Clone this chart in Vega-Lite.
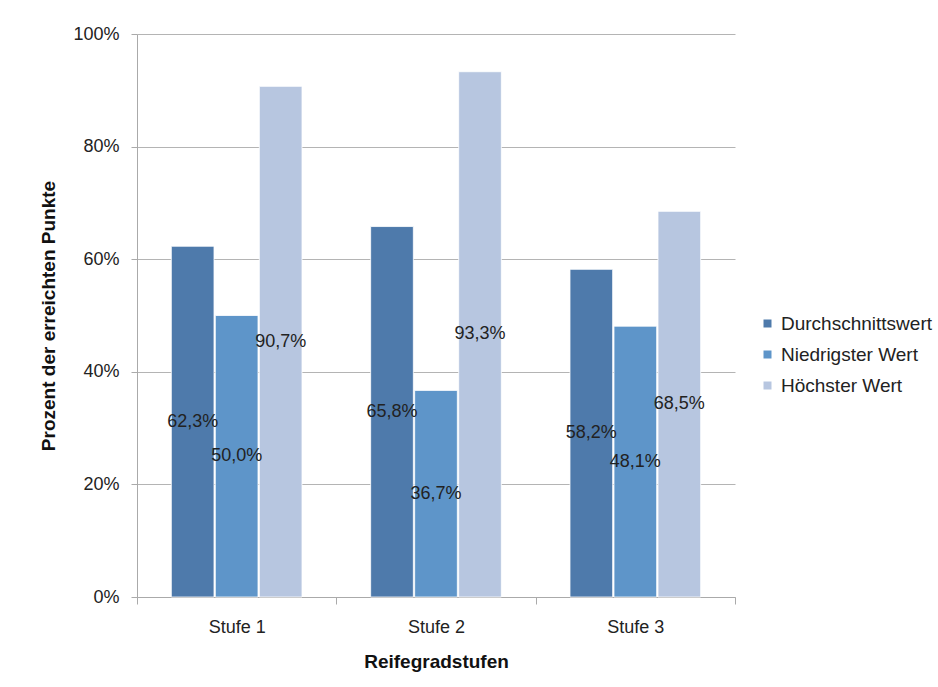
{
  "$schema": "https://vega.github.io/schema/vega-lite/v6.json",
  "autosize": {"type": "none"},
  "padding": {"left": 137, "top": 34, "right": 203, "bottom": 90},
  "width": 598,
  "height": 563,
  "background": "white",
  "config": {
    "locale": {"number": {"decimal": ",", "thousands": ".", "grouping": [3], "currency": ["", " €"]}},
    "font": "Liberation Sans",
    "view": {"stroke": null},
    "axis": {"labelFont": "Liberation Sans", "titleFont": "Liberation Sans", "labelColor": "#222222", "titleColor": "#111111"}
  },
  "data": {"values": [
    {"stufe": "Stufe 1", "serie": "Durchschnittswert", "wert": 0.623},
    {"stufe": "Stufe 1", "serie": "Niedrigster Wert", "wert": 0.500},
    {"stufe": "Stufe 1", "serie": "Höchster Wert", "wert": 0.907},
    {"stufe": "Stufe 2", "serie": "Durchschnittswert", "wert": 0.658},
    {"stufe": "Stufe 2", "serie": "Niedrigster Wert", "wert": 0.367},
    {"stufe": "Stufe 2", "serie": "Höchster Wert", "wert": 0.933},
    {"stufe": "Stufe 3", "serie": "Durchschnittswert", "wert": 0.582},
    {"stufe": "Stufe 3", "serie": "Niedrigster Wert", "wert": 0.481},
    {"stufe": "Stufe 3", "serie": "Höchster Wert", "wert": 0.685}
  ]},
  "encoding": {
    "x": {
      "field": "stufe", "type": "nominal", "sort": null,
      "scale": {"paddingInner": 0, "paddingOuter": 0},
      "axis": {
        "title": "Reifegradstufen", "titleFontSize": 19, "titleFontWeight": "bold", "titlePadding": 16,
        "labelAngle": 0, "labelFontSize": 18, "labelPadding": 14,
        "tickBand": "extent", "tickSize": 7, "tickColor": "#aaaaaa", "domainColor": "#aaaaaa"
      }
    },
    "xOffset": {
      "field": "serie", "type": "nominal", "sort": ["Durchschnittswert", "Niedrigster Wert", "Höchster Wert"],
      "scale": {"paddingOuter": 0.78, "paddingInner": 0.03}
    }
  },
  "layer": [
    {
      "mark": {"type": "bar", "stroke": "#ffffff", "strokeWidth": 0.8},
      "encoding": {
        "y": {
          "field": "wert", "type": "quantitative",
          "scale": {"domain": [0, 1], "nice": false},
          "axis": {
            "title": "Prozent der erreichten Punkte", "titleFontSize": 19, "titleFontWeight": "bold", "titlePadding": 14,
            "format": ".0%", "values": [0, 0.2, 0.4, 0.6, 0.8, 1], "labelFontSize": 18, "labelPadding": 12,
            "tickSize": 6, "tickColor": "#aaaaaa", "domainColor": "#aaaaaa", "gridColor": "#b4b4b4", "grid": true
          }
        },
        "color": {
          "field": "serie", "type": "nominal",
          "sort": ["Durchschnittswert", "Niedrigster Wert", "Höchster Wert"],
          "scale": {"domain": ["Durchschnittswert", "Niedrigster Wert", "Höchster Wert"], "range": ["#4e7aab", "#5e95c9", "#b7c6e0"]},
          "legend": {
            "title": null, "orient": "none", "legendX": 621, "legendY": 280,
            "symbolType": "square", "symbolSize": 64, "symbolStrokeWidth": 0,
            "labelFontSize": 19, "labelColor": "#222222", "rowPadding": 11, "labelOffset": 4
          }
        }
      }
    },
    {
      "mark": {"type": "text", "fontSize": 18, "color": "#222222", "align": "center", "baseline": "middle"},
      "encoding": {
        "y": {"field": "wert", "type": "quantitative", "scale": {"domain": [0, 2], "nice": false}, "axis": null},
        "text": {"field": "wert", "type": "quantitative", "format": ".1%"}
      }
    }
  ],
  "resolve": {"scale": {"y": "independent"}}
}
